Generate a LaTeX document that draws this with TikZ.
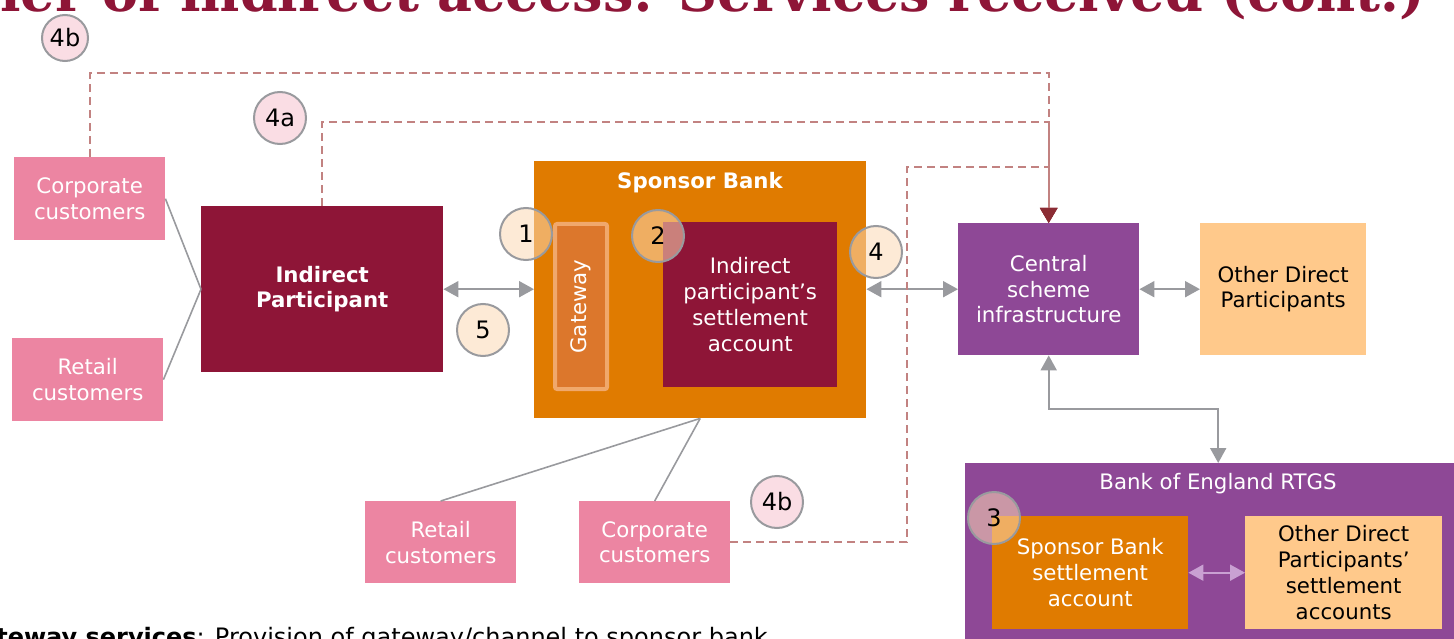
\documentclass[tikz,border=0pt]{standalone}
\usepackage{fontspec}
\setmainfont{DejaVu Sans}
\newfontfamily\headfont{DejaVu Serif}
\usetikzlibrary{arrows.meta}
\definecolor{maroon}{HTML}{8E1537}
\definecolor{pinkbox}{HTML}{EC85A2}
\definecolor{sbor}{HTML}{E07B00}
\definecolor{gwfill}{HTML}{DC772C}
\definecolor{gwedge}{HTML}{F0A86C}
\definecolor{purp}{HTML}{8E4896}
\definecolor{peach}{HTML}{FFC98B}
\definecolor{garr}{HTML}{999A9E}
\definecolor{dashc}{HTML}{C28281}
\definecolor{tipred}{HTML}{8B2C34}
\definecolor{cream}{HTML}{FCD9B4}
\definecolor{lpink}{HTML}{FADDE4}
\definecolor{lpurp}{HTML}{C9A0D2}
\newcommand\bodyfont{\fontsize{21.3}{25.8}\selectfont}
\tikzset{
  box/.style={rectangle, inner sep=0pt, anchor=north west, align=center, font=\bodyfont, text=white},
  custbox/.style={box, fill=pinkbox},
  darkbox/.style={box, fill=maroon},
  purpbox/.style={box, fill=purp},
  peachbox/.style={box, fill=peach, text=black},
  orbox/.style={box, fill=sbor},
  numc/.style={circle, inner sep=0pt, minimum size=52pt, draw=garr, line width=2pt, font=\fontsize{24}{28}\selectfont, text=black},
  numcream/.style={numc, fill=cream, fill opacity=0.55, text opacity=1},
  numpink/.style={numc, fill=lpink},
  link/.style={draw=garr, line width=1.6pt},
  twoway/.style={draw=garr, line width=2pt, {Triangle[length=15pt,width=16pt]}-{Triangle[length=15pt,width=16pt]}},
  flow/.style={draw=dashc, line width=2.2pt, dash pattern=on 8pt off 5pt, -{Triangle[length=15pt,width=17pt,color=tipred]}},
}
\begin{document}
\begin{tikzpicture}[x=1pt,y=-1pt]
\useasboundingbox (0,0) rectangle (1454,639);
\clip (0,0) rectangle (1454,639);

% heading and footnote
\node[anchor=base east, inner sep=0pt, font=\headfont\fontsize{54}{62}\selectfont\bfseries, text=maroon] (title) at (1425,12) {tier of indirect access: Services received (cont.)};
\node[anchor=base east, inner sep=0pt, font=\fontsize{24}{28}\selectfont, text=black] (note) at (768,645) {\textbf{Gateway services}: Provision of gateway/channel to sponsor bank};

% customers and indirect participant
\node[custbox, minimum width=151pt, minimum height=83pt] (corpL) at (14,157) {Corporate\\customers};
\node[custbox, minimum width=151pt, minimum height=83pt] (retL) at (12,338) {Retail\\customers};
\node[darkbox, minimum width=242pt, minimum height=166pt, font=\bodyfont\bfseries] (ip) at (201,206) {Indirect\\Participant};

% sponsor bank
\node[orbox, minimum width=332pt, minimum height=257pt] (sb) at (534,161) {};
\node[anchor=center, font=\bodyfont\bfseries, text=white] (sbt) at (700,183) {Sponsor Bank};
\node[box, minimum width=52pt, minimum height=165pt, fill=gwfill, draw=gwedge, line width=4pt, rounded corners=2pt] (gw) at (553,222) {};
\node[rotate=90, font=\bodyfont, text=white] (gwt) at (gw.center) {Gateway};
\node[darkbox, minimum width=174pt, minimum height=165pt] (ipsa) at (663,222) {Indirect\\participant’s\\settlement\\account};

% bottom customers
\node[custbox, minimum width=151pt, minimum height=82pt] (retB) at (365,501) {Retail\\customers};
\node[custbox, minimum width=151pt, minimum height=82pt] (corpB) at (579,501) {Corporate\\customers};

% scheme side
\node[purpbox, minimum width=181pt, minimum height=132pt] (csi) at (958,223) {Central\\scheme\\infrastructure};
\node[peachbox, minimum width=166pt, minimum height=132pt] (odp) at (1200,223) {Other Direct\\Participants};
\node[purpbox, minimum width=506pt, minimum height=190pt] (boe) at (965,463) {};
\node[anchor=center, font=\bodyfont, text=white] (boet) at (1218,484) {Bank of England RTGS};
\node[orbox, minimum width=196pt, minimum height=113pt] (sbsa) at (992,516) {Sponsor Bank\\settlement\\account};
\node[peachbox, minimum width=197pt, minimum height=113pt] (odpsa) at (1245,516) {Other Direct\\Participants’\\settlement\\accounts};

% plain links
\draw[link] (corpL.east) -- (ip.west);
\draw[link] (retL.east) -- (ip.west);
\draw[link] (sb.south) -- (retB.north);
\draw[link] (sb.south) -- (corpB.north);

% two-way arrows
\draw[twoway] (ip.east) -- (ip.east -| sb.west);
\draw[twoway] (csi.west -| sb.east) -- (csi.west);
\draw[twoway] (csi.east) -- (odp.west);
\draw[twoway] (csi.south) -- ++(0,54) -| (boe.north);
\draw[twoway, draw=lpurp] (sbsa.east) -- (odpsa.west);

% dashed flows into the scheme
\coordinate (bend) at (907,167);
\draw[flow] (corpL.north) -- ++(0,-84) -| (csi.north);
\draw[flow] (ip.north) -- ++(0,-84) -| (csi.north);
\draw[flow] (corpB.east) -| (bend) -| (csi.north);

% numbered markers
\node[numpink, minimum size=46pt] (m4bt) at (65,38) {4b};
\node[numpink] (m4a) at (280,118) {4a};
\node[numcream] (m1) at (526,234) {1};
\node[numcream] (m2) at (658,236) {2};
\node[numcream] (m4) at (876,252) {4};
\node[numcream] (m5) at (483,330) {5};
\node[numcream] (m3) at (994,518) {3};
\node[numpink] (m4bb) at (777,502) {4b};
\end{tikzpicture}
\end{document}
